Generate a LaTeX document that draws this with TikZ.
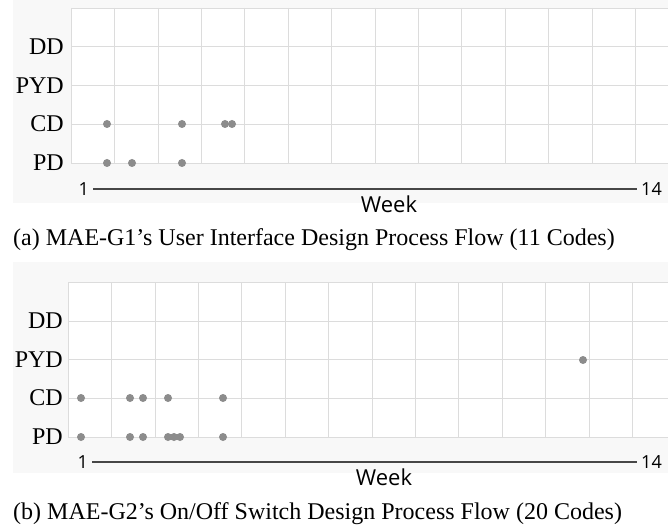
\documentclass[tikz,border=0pt]{standalone}
\usepackage{fontspec}
\setmainfont{Liberation Serif}
\newfontfamily\axisfont{Open Sans}
\definecolor{gridgray}{HTML}{DCDCDC}
\definecolor{dotgray}{HTML}{8C8C8C}
\definecolor{axisgray}{HTML}{474747}
\definecolor{bandgray}{HTML}{F8F8F8}
\tikzset{
  rowlab/.style={anchor=east, inner sep=0pt, font=\fontsize{24}{24}\selectfont},
  weeknum/.style={inner ysep=0pt, inner xsep=4pt, font=\axisfont\fontsize{18}{18}\selectfont},
  weeklab/.style={inner sep=0pt, font=\axisfont\fontsize{22}{22}\selectfont},
  figcap/.style={anchor=base west, inner sep=0pt, font=\fontsize{24}{24}\selectfont},
  axisline/.style={axisgray, line width=1.5pt},
  code/.style={dotgray}
}

\begin{document}
\begin{tikzpicture}[x=1pt, y=-1pt]
  \useasboundingbox (0,0) rectangle (668,526);
  % (a) user interface
  \fill[bandgray] (13,0) rectangle (668,203);
  \fill[white] (71,8) rectangle (668,163);
  \foreach \i in {0,...,13} \draw[gridgray] ({71+43.4*\i},8) -- ({71+43.4*\i},163);
  \foreach \j in {0,...,4} \draw[gridgray] (71,{8+38.7*\j}) -- (668,{8+38.7*\j});
  \node[rowlab] (dd-a) at (64,47) {DD};
  \node[rowlab] (pyd-a) at (64,86) {PYD};
  \node[rowlab] (cd-a) at (64,124) {CD};
  \node[rowlab] (pd-a) at (64,163) {PD};
  \foreach \x in {107,182,225,232} \fill[code] (\x,124) circle (4);
  \foreach \x in {107,132,182} \fill[code] (\x,163) circle (4);
  \node[weeknum, anchor=east] (first-a) at (93,189) {1};
  \node[weeknum, anchor=west] (last-a) at (637,189) {14};
  \draw[axisline] (first-a) -- (last-a);
  \node[weeklab] (week-a) at (389,204) {Week};
  \node[figcap] (cap-a) at (13,246) {(a) MAE-G1’s User Interface Design Process Flow (11 Codes)};

  % (b) on/off switch
  \begin{scope}[shift={(-3,274)}]
    \fill[bandgray] (16,-12) rectangle (671,199);
    \fill[white] (71,8) rectangle (671,163);
    \foreach \i in {0,...,13} \draw[gridgray] ({71+43.4*\i},8) -- ({71+43.4*\i},163);
    \foreach \j in {0,...,4} \draw[gridgray] (71,{8+38.7*\j}) -- (671,{8+38.7*\j});
    \node[rowlab] (dd-b) at (66,47) {DD};
    \node[rowlab] (pyd-b) at (66,86) {PYD};
    \node[rowlab] (cd-b) at (66,124) {CD};
    \node[rowlab] (pd-b) at (66,163) {PD};
    \fill[code] (586,86) circle (4);
    \foreach \x in {84,133,146,171,226} \fill[code] (\x,124) circle (4);
    \foreach \x in {84,133,146,171,177,183,226} \fill[code] (\x,163) circle (4);
    \node[weeknum, anchor=east] (first-b) at (95,188) {1};
    \node[weeknum, anchor=west] (last-b) at (640,188) {14};
    \draw[axisline] (first-b) -- (last-b);
    \node[weeklab] (week-b) at (387,203) {Week};
  \end{scope}
  \node[figcap] (cap-b) at (13,519) {(b) MAE-G2’s On/Off Switch Design Process Flow (20 Codes)};
\end{tikzpicture}
\end{document}
